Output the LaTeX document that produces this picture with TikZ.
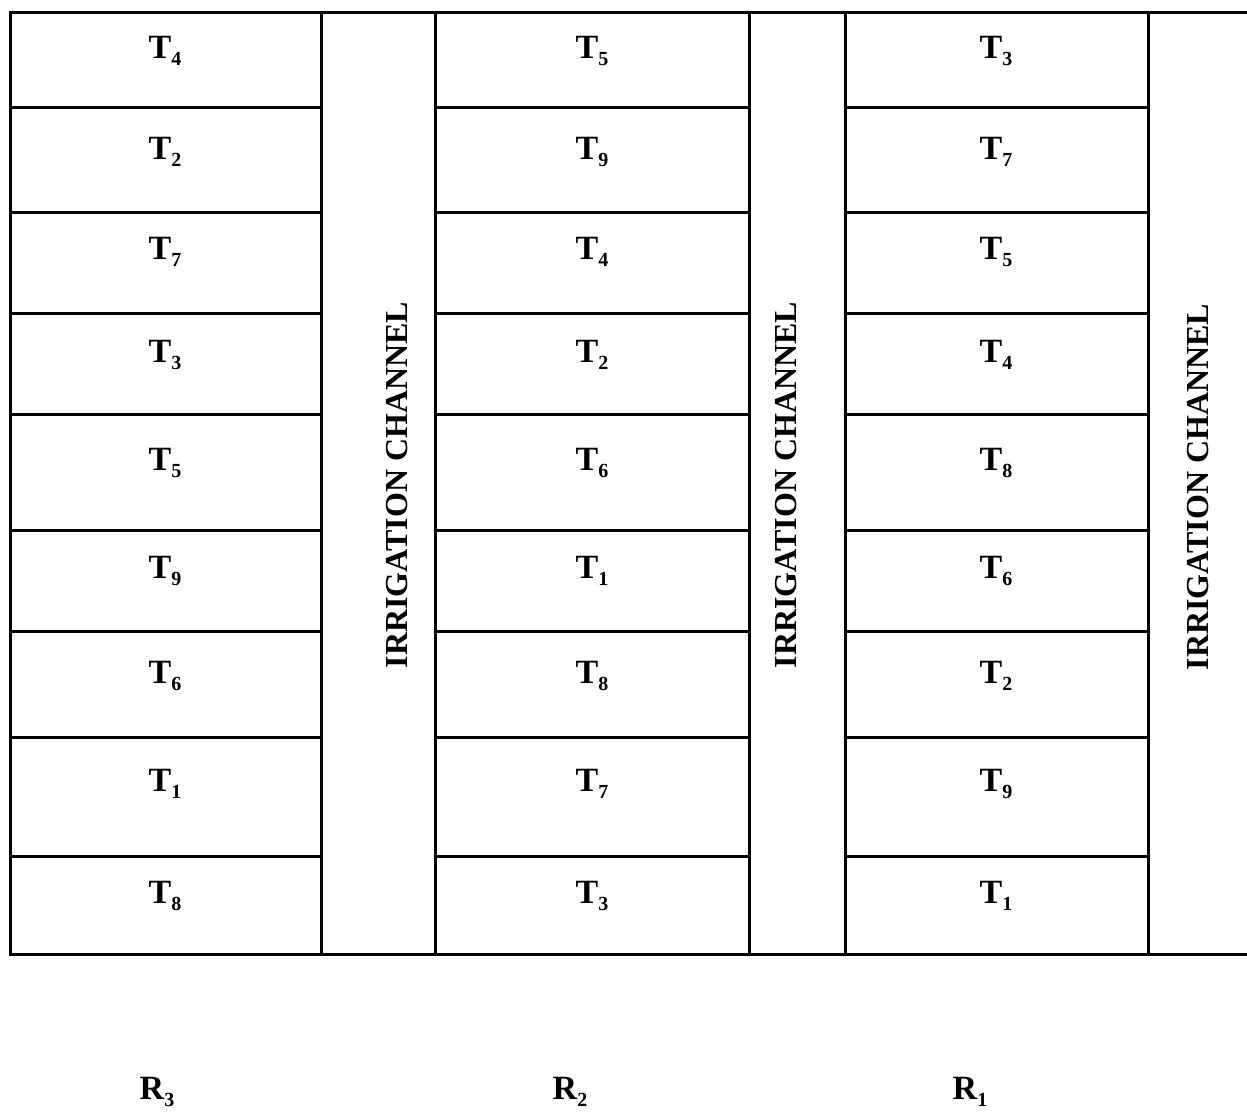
\documentclass[tikz,border=0pt]{standalone}
\usepackage{fontspec}
\setmainfont{Liberation Serif}
\usetikzlibrary{positioning}

\newcommand{\plotlab}[2]{#1\raisebox{-7pt}{\fontsize{20}{20}\selectfont #2}}

\tikzset{
  field/.style={line width=3pt, line cap=rect},
  plotlabel/.style={font=\bfseries\fontsize{34}{40}\selectfont, anchor=base, inner sep=0pt},
  channellabel/.style={font=\bfseries\fontsize{32}{40}\selectfont, rotate=90, inner sep=0pt},
}

\begin{document}
\begin{tikzpicture}[x=1pt, y=-1pt]
    % 1. Page size of the layout
    \useasboundingbox (0,0) rectangle (1247,1113);

    % 2. Outer frame of the field (its right side runs off the page)
    \draw[field] (1247,13) -- (10,13) -- (10,954) -- (1247,954);

    % 3. Walls of the plot columns and the irrigation channels
    \foreach \x in {321, 435, 749, 845, 1148} {
        \draw[field] (\x,13) -- (\x,954);
    }

    % 4. Borders between the plots of each replication
    \foreach \y in {108, 212, 313, 414, 530, 631, 737, 856} {
        \draw[field] (10,\y) -- (321,\y);
        \draw[field] (435,\y) -- (749,\y);
        \draw[field] (845,\y) -- (1148,\y);
    }

    % 5. Treatments in each plot (R3, R2, R1 from left to right)
    \foreach \y/\a/\b/\c [count=\i] in {59/4/5/3, 159/2/9/7, 259/7/4/5, 362/3/2/4,
        470/5/6/8, 578/9/1/6, 683/6/8/2, 791/1/7/9, 903/8/3/1} {
        \node[plotlabel] (rthree\i) at (165,\y) {\plotlab{T}{\a}};
        \node[plotlabel] (rtwo\i) at (592,\y) {\plotlab{T}{\b}};
        \node[plotlabel] (rone\i) at (996,\y) {\plotlab{T}{\c}};
    }

    % 6. Irrigation channels
    \node[channellabel] (chone) at (397,485) {IRRIGATION CHANNEL};
    \node[channellabel] (chtwo) at (786,485) {IRRIGATION CHANNEL};
    \node[channellabel] (chthree) at (1198,487) {IRRIGATION CHANNEL};

    % 7. Replication labels
    \node[plotlabel] (repthree) at (157,1099) {\plotlab{R}{3}};
    \node[plotlabel] (reptwo) at (570,1099) {\plotlab{R}{2}};
    \node[plotlabel] (repone) at (970,1099) {\plotlab{R}{1}};

\end{tikzpicture}
\end{document}
